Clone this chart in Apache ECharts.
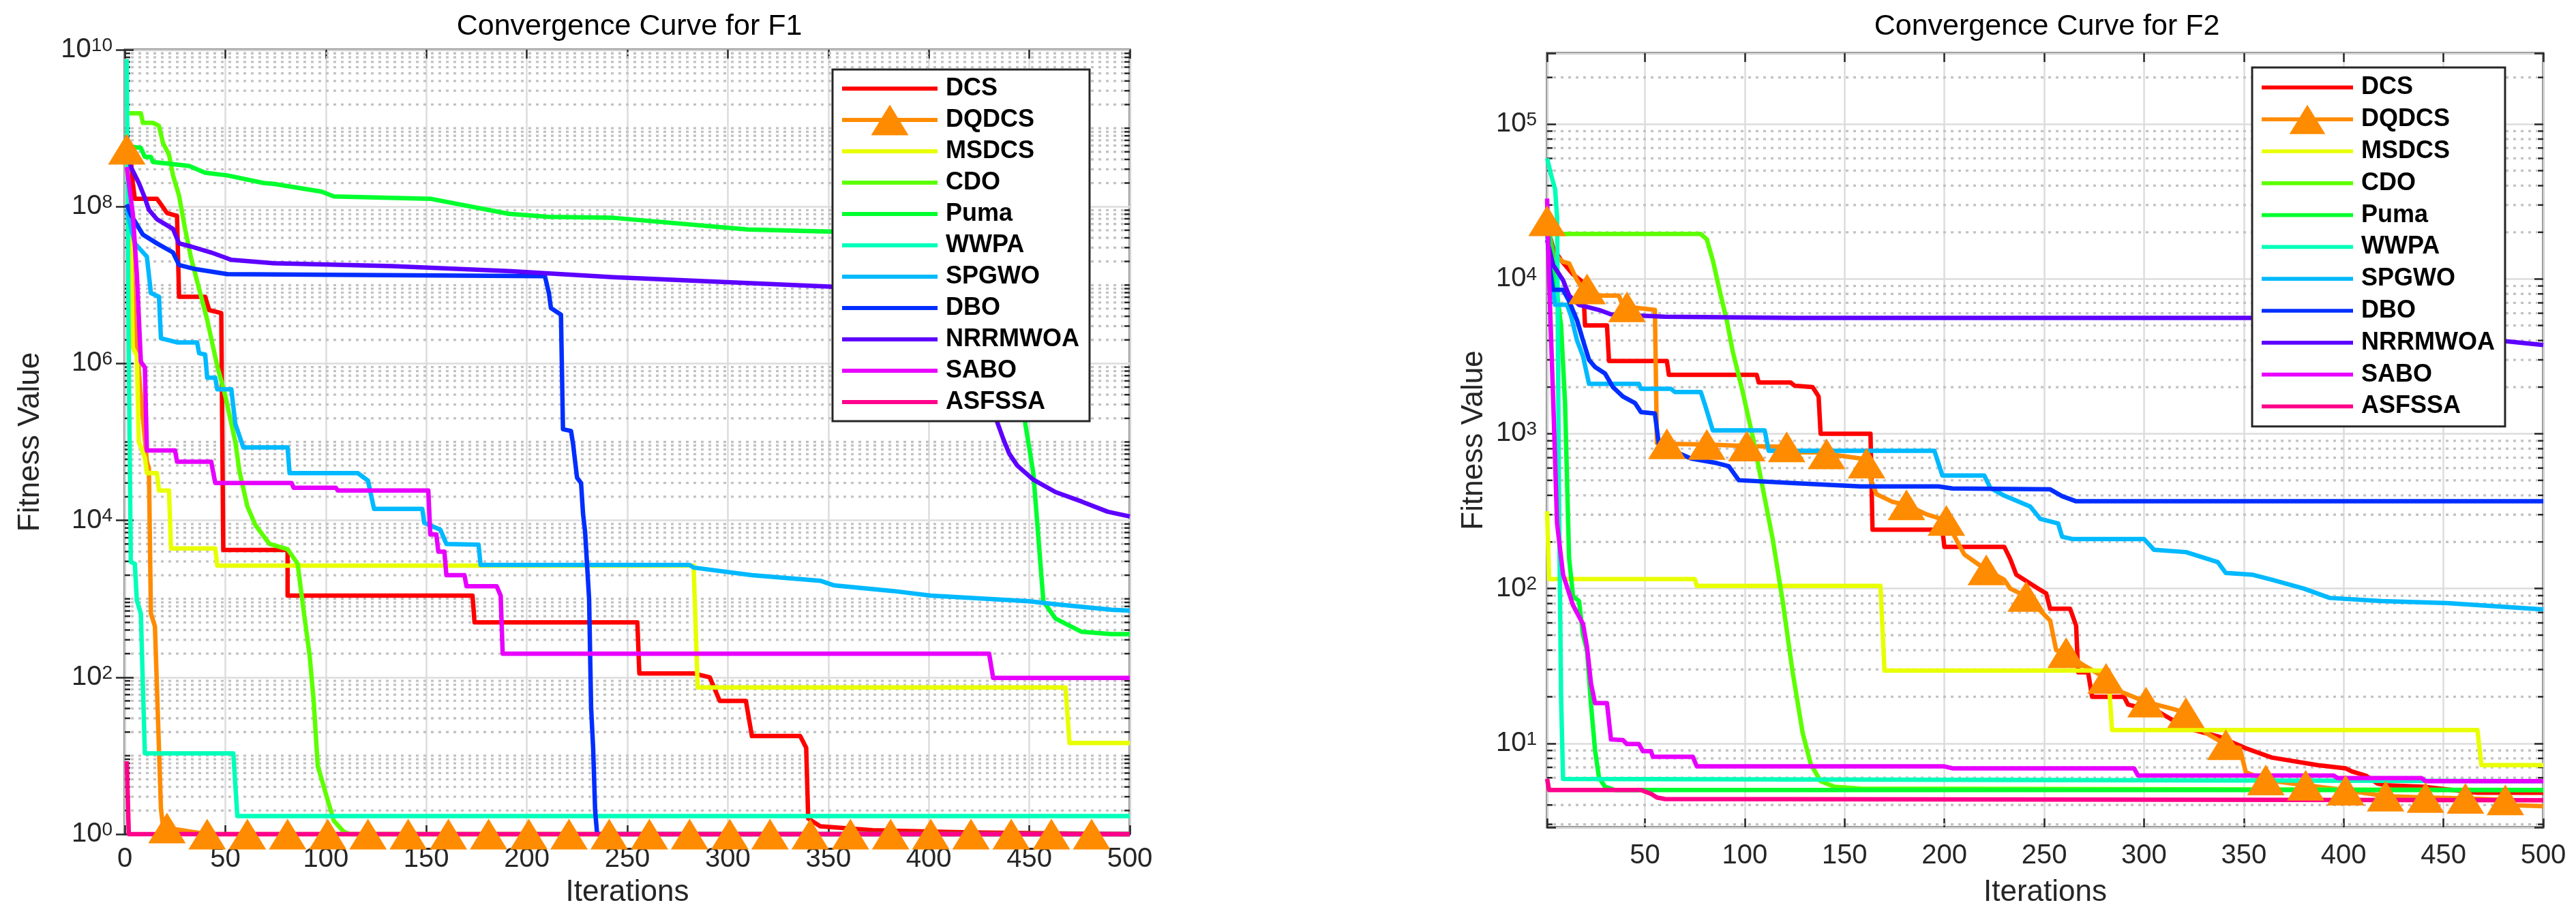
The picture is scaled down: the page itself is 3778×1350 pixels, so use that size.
<!DOCTYPE html>
<html>
<head>
<meta charset="utf-8">
<title>Convergence Curves F1 / F2</title>
<script src="https://cdn.jsdelivr.net/npm/echarts/dist/echarts.min.js"></script>
<style>
  html, body { margin: 0; padding: 0; background: #fff; }
  #container { width: 3778px; height: 1350px; }
</style>
</head>
<body>
<div id="container"></div>
<script>
// legend order = draw order
var algorithms = ['DCS', 'DQDCS', 'MSDCS', 'CDO', 'Puma', 'WWPA', 'SPGWO', 'DBO', 'NRRMWOA', 'SABO', 'ASFSSA'];
var colors = ['#ff0000', '#ff8b00', '#e8ff00', '#5dff00', '#00ff2e', '#00ffb9',
              '#00b9ff', '#002eff', '#5d00ff', '#e800ff', '#ff008b'];
var minorMultiples = [2, 3, 4, 5, 6, 7, 8, 9];
var markerEvery = 20;   // DQDCS triangle every 20 iterations, starting at 1

// ---- F1: [iteration, best fitness] ----
var f1DCS = [[1,7.4e8],[3,4.0e8],[4,2.0e8],[5,1.26e8],[16,1.26e8],[18,1.07e8],[21,8.3e7],[26,7.6e7],[27,7.1e6],[40,7.1e6],[42,4.8e6],[48,4.4e6],[49,4.2e3],[81,4.2e3],[81,1.1e3],[173,1.1e3],[174,500],[255,500],[256,112],[283,112],[291,100],[296,50],[309,50],[312,17.8],[336,17.8],[339,12.6],[340,1.58],[346,1.26],[372,1.12],[420,1.05],[500,1]];
var f1DQDCS = [[1,5.4e8],[2,1.6e8],[4,1.0e7],[5,3.2e6],[8,4.0e5],[11,5.6e4],[12,4.7e4],[13,646],[15,447],[17,12.6],[18,2.1],[19,1.26],[21,1.2],[41,1],[61,1],[81,1],[101,1],[121,1],[141,1],[161,1],[181,1],[201,1],[221,1],[241,1],[261,1],[281,1],[301,1],[321,1],[341,1],[361,1],[381,1],[401,1],[421,1],[441,1],[461,1],[481,1],[500,1]];
var f1MSDCS = [[1,4.0e8],[3,3.2e7],[4,1.6e6],[6,1.26e6],[7,1.0e5],[10,6.3e4],[11,4.0e4],[16,4.0e4],[17,2.4e4],[22,2.4e4],[23,4.4e3],[45,4.4e3],[46,2.65e3],[283,2.65e3],[285,74],[468,74],[470,14.5],[500,14.5]];
var f1CDO = [[1,1.55e9],[8,1.55e9],[9,1.17e9],[14,1.17e9],[17,1.07e9],[19,6.5e8],[22,4.6e8],[24,2.5e8],[27,1.38e8],[30,5.2e7],[33,2.2e7],[37,8.9e6],[41,3.6e6],[46,9.3e5],[50,3.9e5],[55,1.0e5],[57,4.3e4],[61,1.5e4],[65,8.7e3],[72,5.0e3],[81,4.3e3],[86,2.8e3],[88,1.1e3],[92,186],[94,49],[96,7.4],[100,3.3],[104,1.48],[109,1.07],[112,1],[500,1]];
var f1Puma = [[1,5.9e8],[8,5.6e8],[10,4.3e8],[13,4.3e8],[14,3.7e8],[23,3.5e8],[32,3.3e8],[40,2.7e8],[51,2.5e8],[69,2.0e8],[74,1.95e8],[98,1.55e8],[104,1.35e8],[152,1.26e8],[191,8.1e7],[211,7.4e7],[243,7.2e7],[310,5.1e7],[353,4.8e7],[440,4.2e7],[445,1.0e7],[448,1.7e5],[452,4.0e4],[455,4.2e3],[457,930],[463,560],[476,380],[491,355],[500,355]];
var f1WWPA = [[1,7.6e9],[2,1.0e6],[3,2.95e3],[5,2.8e3],[6,955],[8,646],[9,80],[10,10.7],[54,10.7],[56,1.7],[500,1.7]];
var f1SPGWO = [[1,9.1e7],[5,3.4e7],[11,2.3e7],[13,7.9e6],[17,7.1e6],[18,2.1e6],[26,1.86e6],[36,1.86e6],[37,1.35e6],[40,1.3e6],[41,6.6e5],[45,6.6e5],[46,4.7e5],[53,4.7e5],[55,1.7e5],[59,8.5e4],[81,8.5e4],[82,4.0e4],[116,4.0e4],[121,3.2e4],[124,1.4e4],[148,1.4e4],[149,9.3e3],[157,7.6e3],[160,5.0e3],[176,4.9e3],[177,2.7e3],[281,2.7e3],[283,2.5e3],[312,2.0e3],[346,1.7e3],[353,1.48e3],[382,1.26e3],[401,1.1e3],[450,930],[460,870],[491,724],[500,708]];
var f1DBO = [[1,1.07e8],[3,7.9e7],[9,4.4e7],[16,3.4e7],[24,2.6e7],[27,1.8e7],[35,1.6e7],[51,1.38e7],[209,1.3e7],[211,7.9e6],[212,5.1e6],[217,4.2e6],[218,1.45e5],[222,1.38e5],[223,9.5e4],[225,3.5e4],[227,3.0e4],[228,1.2e4],[229,7.2e3],[231,1.0e3],[232,41],[233,12.6],[234,2.0],[235,1],[500,1]];
var f1NRRMWOA = [[1,7.9e8],[3,3.2e8],[7,2.0e8],[10,1.29e8],[12,9.1e7],[16,6.9e7],[24,5.2e7],[27,3.4e7],[33,3.1e7],[43,2.6e7],[53,2.1e7],[74,1.9e7],[133,1.74e7],[191,1.51e7],[243,1.26e7],[352,9.5e6],[420,8.3e6],[428,5.6e6],[432,4.0e5],[434,1.8e5],[437,1.1e5],[440,7.1e4],[444,5.0e4],[452,3.3e4],[463,2.3e4],[476,1.74e4],[489,1.29e4],[500,1.12e4]];
var f1SABO = [[1,3.2e8],[4,8.1e7],[6,1.38e7],[8,1.05e6],[10,8.9e5],[11,7.8e4],[25,7.8e4],[26,5.6e4],[43,5.6e4],[45,3.0e4],[83,3.0e4],[84,2.6e4],[105,2.6e4],[106,2.4e4],[151,2.4e4],[152,6.6e3],[155,6.6e3],[156,4.0e3],[159,4.0e3],[160,2.0e3],[169,2.0e3],[170,1.45e3],[185,1.45e3],[187,1.1e3],[188,200],[430,200],[432,98],[500,98]];
var f1ASFSSA = [[1,8.5],[2,1],[500,1]];

// ---- F2 ----
var f2DCS = [[1,2.24e4],[4,1.58e4],[8,1.32e4],[14,1.07e4],[19,9.5e3],[20,5.0e3],[31,5.0e3],[32,2.95e3],[61,2.95e3],[62,2.4e3],[106,2.4e3],[107,2.14e3],[123,2.14e3],[125,2.04e3],[134,2.0e3],[137,1.74e3],[138,1.0e3],[163,1.0e3],[164,240],[199,240],[200,186],[230,186],[233,155],[236,123],[247,100],[251,93],[253,74],[263,74],[266,57.5],[267,28.8],[272,28.8],[274,20],[290,20],[292,17.8],[308,15.8],[321,12.6],[338,11],[351,9.3],[364,8.1],[387,7.24],[401,6.9],[404,6.6],[411,6.2],[417,5.5],[421,5.37],[440,5.25],[467,4.8],[500,4.8]];
var f2DQDCS = [[1,2.37e4],[4,1.45e4],[9,1.29e4],[12,1.26e4],[16,9.8e3],[19,8.6e3],[21,8.6e3],[27,7.8e3],[37,7.8e3],[39,6.6e3],[41,6.6e3],[55,6.3e3],[56,871],[61,861],[81,851],[101,832],[121,822],[125,759],[138,759],[141,741],[158,692],[161,646],[163,513],[166,407],[174,363],[181,347],[191,302],[201,275],[207,195],[210,166],[221,132],[230,114],[233,100],[241,89],[253,62],[256,40],[261,38.5],[269,32.4],[281,26.3],[289,21.4],[301,18.5],[312,17],[321,15.8],[331,11.7],[341,9.8],[348,9.3],[351,6.5],[361,5.8],[381,5.37],[401,4.99],[421,4.56],[441,4.47],[461,4.42],[481,4.32],[486,3.98],[500,3.93]];
var f2MSDCS = [[1,316],[2,115],[75,115],[76,104],[168,104],[170,29.5],[282,29.5],[284,12.2],[467,12.2],[469,7.24],[500,7.24]];
var f2CDO = [[1,1.95e4],[78,1.95e4],[81,1.8e4],[84,1.32e4],[88,7.8e3],[91,5.4e3],[94,3.4e3],[99,1.86e3],[104,955],[109,447],[114,209],[119,83],[124,28.8],[129,11.7],[133,7.4],[138,5.7],[145,5.25],[158,5.1],[500,5.0]];
var f2Puma = [[1,2.8e4],[5,1.0e4],[8,5.0e3],[10,1.58e3],[12,158],[14,89],[17,83],[19,50],[21,40],[23,17.8],[25,9.1],[27,6.0],[30,5.25],[35,5.0],[500,5.0]];
var f2WWPA = [[1,6.0e4],[3,4.7e4],[5,3.8e4],[6,2.5e4],[7,316],[8,20],[9,5.9],[500,5.7]];
var f2SPGWO = [[1,2.0e4],[3,1.0e4],[5,6.8e3],[11,6.8e3],[13,5.75e3],[16,4.0e3],[19,3.16e3],[22,2.1e3],[47,2.1e3],[48,1.95e3],[63,1.95e3],[65,1.86e3],[78,1.86e3],[80,1.55e3],[84,1.05e3],[110,1.05e3],[112,776],[195,776],[199,537],[220,537],[223,447],[230,398],[243,339],[248,282],[257,263],[259,216],[264,209],[300,209],[305,178],[321,172],[337,148],[341,126],[354,123],[364,114],[380,100],[393,87],[419,83],[452,80.5],[500,73.3]];
var f2DBO = [[1,2.3e4],[2,1.26e4],[4,8.5e3],[9,8.5e3],[12,7.2e3],[16,5.4e3],[19,4.0e3],[22,3.0e3],[25,2.7e3],[30,2.45e3],[34,2.0e3],[39,1.74e3],[45,1.58e3],[48,1.38e3],[55,1.35e3],[57,851],[73,692],[86,646],[92,617],[97,501],[125,479],[158,457],[197,457],[204,443],[253,437],[259,395],[266,366],[500,366]];
var f2NRRMWOA = [[1,1.78e4],[4,1.23e4],[9,9.8e3],[12,7.8e3],[17,6.8e3],[27,6.3e3],[33,5.9e3],[60,5.7e3],[125,5.6e3],[354,5.6e3],[440,5.5e3],[460,4.8e3],[478,4.0e3],[500,3.74e3]];
var f2SABO = [[1,3.3e4],[2,1.0e4],[4,1.74e3],[6,263],[9,123],[14,78],[19,59],[21,42],[23,24.3],[25,18.2],[31,18.2],[33,10.6],[39,10.5],[41,9.9],[47,9.9],[49,8.9],[53,8.9],[54,8.2],[74,8.2],[76,7.1],[200,7.1],[204,6.9],[295,6.9],[297,6.2],[395,6.2],[397,5.97],[439,5.97],[441,5.7],[500,5.7]];
var f2ASFSSA = [[1,5.9],[2,5.0],[48,5.0],[53,4.73],[56,4.47],[60,4.37],[500,4.29]];

var FONT = "'Liberation Sans', Arial, Helvetica, sans-serif";
var AXIS = '#262626';
var BAR_ICON = 'path://M0,0H140V6H0Z';
var TRI_ICON = 'path://M0,19.5H140V25.5H0Z M42.5,45L70,0L97.5,45Z';

var panels = [
    {
        title: 'Convergence Curve for F1', titleX: 918,
        grid: { left: 183, top: 73, width: 1474, height: 1151 },
        xMin: 0, xMax: 500, xInterval: 50,
        yMin: 1, yMax: 1e10, yInterval: 2, oddDecadesMinor: true,
        yLabelMargin: 18, xLabelMargin: 17, xNameGap: 64, yNameGap: 116,
        legend: { left: 1221, top: 102, itemWidth: 140, itemHeight: 46, padding: [5, 15, 5, 14] },
        data: [f1DCS, f1DQDCS, f1MSDCS, f1CDO, f1Puma, f1WWPA, f1SPGWO, f1DBO, f1NRRMWOA, f1SABO, f1ASFSSA]
    },
    {
        title: 'Convergence Curve for F2', titleX: 2997,
        grid: { left: 2269, top: 78, width: 1461, height: 1136 },
        xMin: 1, xMax: 500, xInterval: null,
        yMin: 2.87, yMax: 2.87e5, yInterval: null, oddDecadesMinor: false,
        yLabelMargin: 15, xLabelMargin: 22, xNameGap: 74, yNameGap: 85,
        legend: { left: 3303, top: 99, itemWidth: 134, itemHeight: 46.8, padding: [6, 15, 6, 14] },
        data: [f2DCS, f2DQDCS, f2MSDCS, f2CDO, f2Puma, f2WWPA, f2SPGWO, f2DBO, f2NRRMWOA, f2SABO, f2ASFSSA]
    }
];

/** 10^n label, superscript exponent; blank between decades */
function powerLabel(v) {
    var e = Math.log10(v), r = Math.round(e);
    if (Math.abs(e - r) > 1e-6) return '';
    return '{b|10}{s|' + r + '}';
}

/** minor log ticks (2..9 per decade, plus odd decades when majors skip them) */
function minorValues(lo, hi, oddDecades) {
    var out = [];
    for (var e = Math.floor(Math.log10(lo)); e <= Math.ceil(Math.log10(hi)); e++) {
        var base = Math.pow(10, e);
        if (oddDecades && Math.abs(e % 2) === 1 && base > lo && base < hi) out.push(base);
        minorMultiples.forEach(function (m) {
            var v = m * base;
            if (v > lo && v < hi) out.push(v);
        });
    }
    return out;
}

function tickStyle(len) {
    return { show: true, inside: true, length: len, lineStyle: { color: AXIS, width: 2.5 } };
}

var option = {
    backgroundColor: '#fff',
    animation: false,
    title: [], grid: [], xAxis: [], yAxis: [], legend: [], series: []
};

panels.forEach(function (p, gi) {
    var xi = option.xAxis.length, yi = option.yAxis.length;
    option.title.push({
        text: p.title, left: p.titleX, top: 13, textAlign: 'center',
        textStyle: { fontSize: 43, fontWeight: 'normal', color: '#000', fontFamily: FONT }
    });
    option.grid.push({
        left: p.grid.left, top: p.grid.top, width: p.grid.width, height: p.grid.height,
        show: true, borderColor: AXIS, borderWidth: 3, backgroundColor: '#fff'
    });

    var xBase = { gridIndex: gi, type: 'value', min: p.xMin, max: p.xMax,
        axisLine: { show: false }, axisTick: tickStyle(13), axisLabel: { show: false },
        splitLine: { show: false } };
    if (p.xInterval) xBase.interval = p.xInterval; else xBase.splitNumber = 10;
    option.xAxis.push(Object.assign({}, xBase, {
        position: 'bottom',
        axisLabel: {
            show: true, margin: p.xLabelMargin, fontSize: 40, color: AXIS, fontFamily: FONT,
            formatter: function (v) { return v % 50 === 0 ? String(v) : ''; }
        },
        splitLine: { show: true, lineStyle: { color: '#dcdcdc', width: 2.5 } },
        name: 'Iterations', nameLocation: 'middle', nameGap: p.xNameGap,
        nameTextStyle: { fontSize: 44, color: AXIS, fontFamily: FONT }
    }));
    option.xAxis.push(Object.assign({}, xBase, { position: 'top' }));

    var yBase = { gridIndex: gi, type: 'log', logBase: 10, min: p.yMin, max: p.yMax,
        axisLine: { show: false }, axisTick: tickStyle(13), axisLabel: { show: false },
        splitLine: { show: false } };
    if (p.yInterval) yBase.interval = p.yInterval;
    option.yAxis.push(Object.assign({}, yBase, {
        position: 'left',
        axisLabel: {
            show: true, margin: p.yLabelMargin, formatter: powerLabel,
            rich: {
                b: { fontSize: 40, lineHeight: 40, verticalAlign: 'bottom', color: AXIS, fontFamily: FONT },
                s: { fontSize: 28, lineHeight: 30, verticalAlign: 'top', padding: [0, 0, 20, 0], color: AXIS, fontFamily: FONT }
            }
        },
        splitLine: { show: true, lineStyle: { color: '#dcdcdc', width: 2.5 } },
        name: 'Fitness Value', nameLocation: 'middle', nameGap: p.yNameGap, nameRotate: 90,
        nameTextStyle: { fontSize: 44, color: AXIS, fontFamily: FONT }
    }));
    option.yAxis.push(Object.assign({}, yBase, { position: 'right' }));

    // minor grid (dotted) + minor ticks on both sides
    var minor = minorValues(p.yMin, p.yMax, p.oddDecadesMinor);
    option.series.push({
        type: 'custom', xAxisIndex: xi, yAxisIndex: yi, silent: true, z: 1,
        data: minor.map(function (v) { return [p.xMin, v]; }),
        renderItem: function (params, api) {
            var cs = params.coordSys;
            var y = api.coord([p.xMin, api.value(1)])[1];
            var tick = { stroke: AXIS, lineWidth: 2.5 };
            return { type: 'group', children: [
                { type: 'line', shape: { x1: cs.x + 9, y1: y, x2: cs.x + cs.width - 9, y2: y },
                  style: { stroke: '#c2c2c2', lineWidth: 3.3, lineDash: [4, 7] } },
                { type: 'line', shape: { x1: cs.x, y1: y, x2: cs.x + 8, y2: y }, style: tick },
                { type: 'line', shape: { x1: cs.x + cs.width - 8, y1: y, x2: cs.x + cs.width, y2: y }, style: tick }
            ] };
        }
    });

    p.data.forEach(function (d, k) {
        var s = {
            type: 'line', name: algorithms[k], data: d,
            xAxisIndex: xi, yAxisIndex: yi, z: 2, clip: false,
            silent: true, emphasis: { disabled: true },
            showSymbol: false, symbol: 'none',
            lineStyle: { color: colors[k], width: 6.5, join: 'round' },
            itemStyle: { color: colors[k] }
        };
        if (algorithms[k] === 'DQDCS') {
            s.showSymbol = true;
            s.showAllSymbol = true;
            s.symbol = function (val) { return (val[0] - 1) % markerEvery === 0 ? 'triangle' : 'none'; };
            s.symbolSize = [55, 45];
        }
        option.series.push(s);
    });

    option.legend.push({
        orient: 'vertical', left: p.legend.left, top: p.legend.top,
        itemWidth: p.legend.itemWidth, itemHeight: p.legend.itemHeight, itemGap: 0,
        padding: p.legend.padding, backgroundColor: '#fff',
        borderColor: AXIS, borderWidth: 3, borderRadius: 0,
        selectedMode: false, symbolKeepAspect: true,
        itemStyle: { borderWidth: 0 },
        textStyle: {
            fontSize: 36, fontWeight: 'bold', color: '#000', fontFamily: FONT,
            lineHeight: p.legend.itemHeight, padding: [0, 0, 0, 7]
        },
        data: algorithms.map(function (n, k) {
            return { name: n, icon: n === 'DQDCS' ? TRI_ICON : BAR_ICON, itemStyle: { color: colors[k], borderWidth: 0 } };
        })
    });
});

var chart = echarts.init(document.getElementById('container'), null, { renderer: 'canvas' });
chart.setOption(option);
window.addEventListener('resize', chart.resize);
</script>
</body>
</html>
